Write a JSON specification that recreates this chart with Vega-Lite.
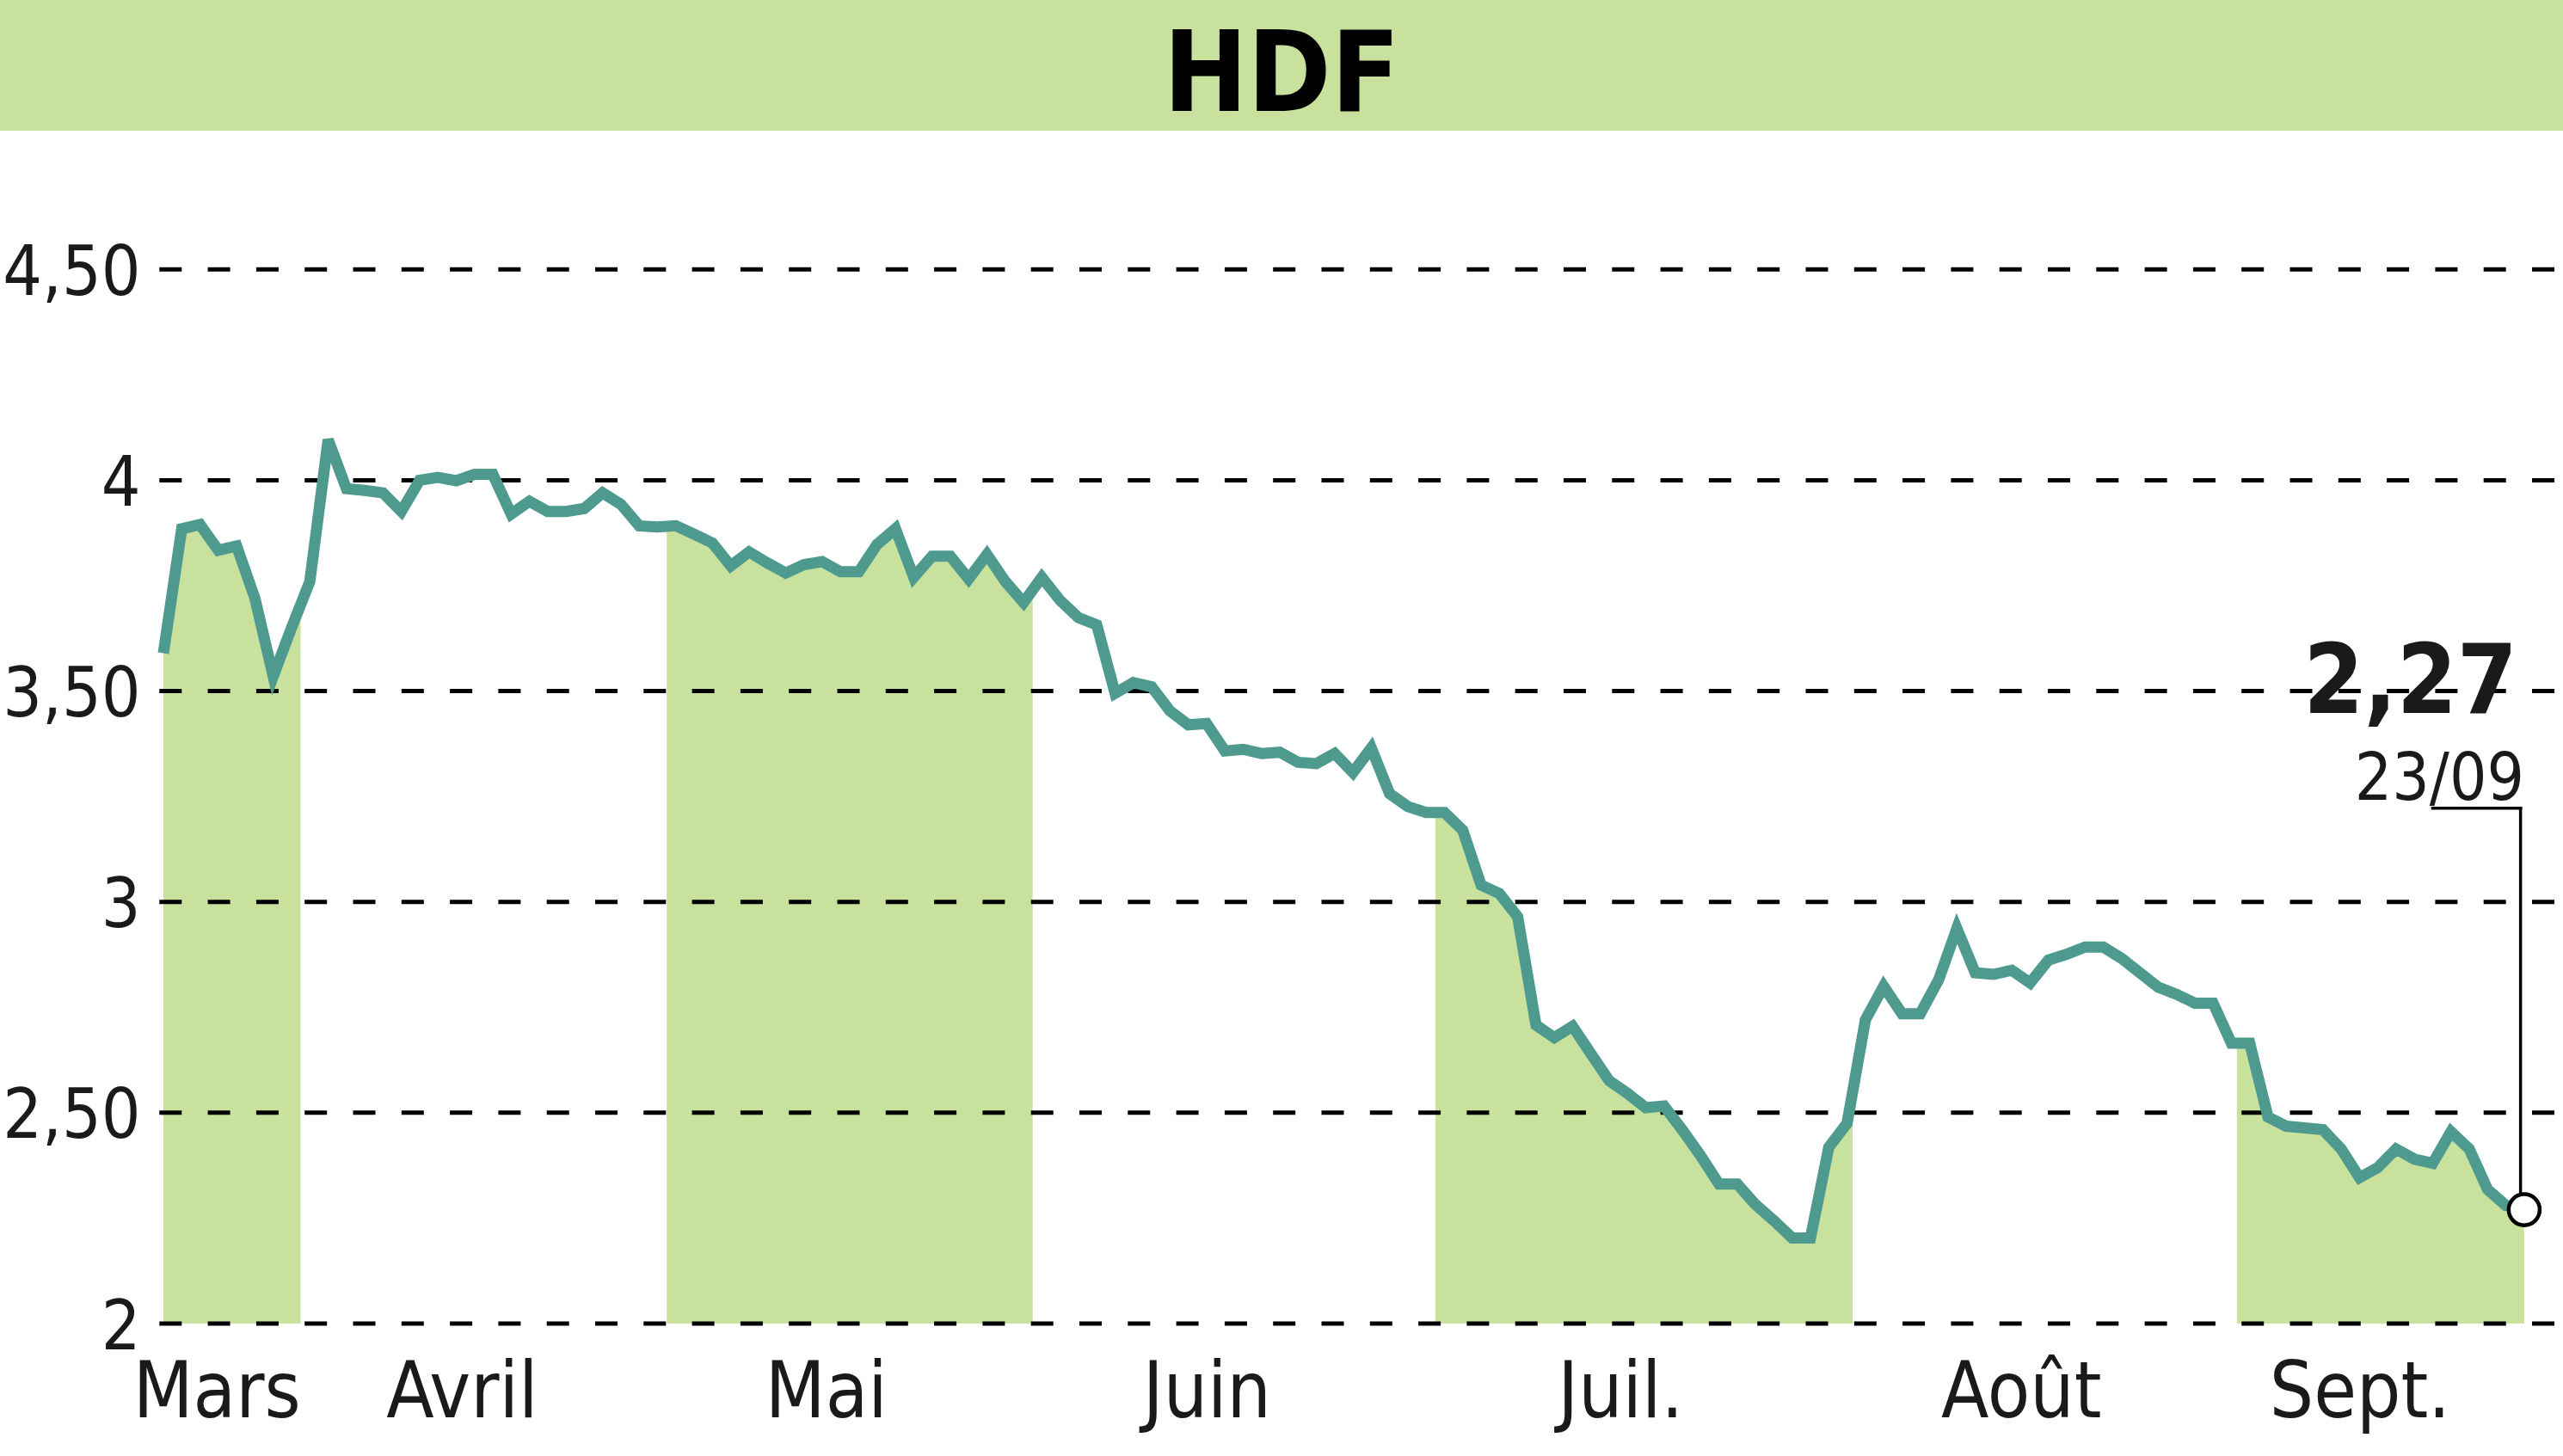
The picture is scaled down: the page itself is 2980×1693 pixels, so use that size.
{
  "$schema": "https://vega.github.io/schema/vega-lite/v6.json",
  "width": 2796,
  "height": 1539,
  "autosize": {"type": "none"},
  "padding": {"left": 184, "top": 0, "right": 0, "bottom": 154},
  "background": "white",
  "config": {
    "view": {"stroke": null},
    "font": "DejaVu Sans Condensed, Liberation Sans, sans-serif",
    "axis": {"grid": false, "domain": false, "ticks": false, "tickSize": 0, "labelFlush": false, "labelOverlap": false, "labelLimit": 0, "labelFont": "DejaVu Sans Condensed, Liberation Sans, sans-serif", "labelColor": "#1a1a1a"}
  },
  "datasets": {
    "prix": [
      {"i":0,"v":3.59},{"i":1,"v":3.885},{"i":2,"v":3.895},{"i":3,"v":3.834},{"i":4,"v":3.844},
      {"i":5,"v":3.72},{"i":6,"v":3.535},{"i":7,"v":3.65},{"i":8,"v":3.76},{"i":9,"v":4.096},
      {"i":10,"v":3.98},{"i":11,"v":3.976},{"i":12,"v":3.97},{"i":13,"v":3.926},{"i":14,"v":4.0},
      {"i":15,"v":4.007},{"i":16,"v":3.999},{"i":17,"v":4.014},{"i":18,"v":4.014},{"i":19,"v":3.92},
      {"i":20,"v":3.95},{"i":21,"v":3.926},{"i":22,"v":3.926},{"i":23,"v":3.933},{"i":24,"v":3.97},
      {"i":25,"v":3.943},{"i":26,"v":3.892},{"i":27,"v":3.889},{"i":28,"v":3.892},{"i":29,"v":3.872},
      {"i":30,"v":3.851},{"i":31,"v":3.797},{"i":32,"v":3.83},{"i":33,"v":3.804},{"i":34,"v":3.78},
      {"i":35,"v":3.8},{"i":36,"v":3.807},{"i":37,"v":3.783},{"i":38,"v":3.783},{"i":39,"v":3.848},
      {"i":40,"v":3.885},{"i":41,"v":3.77},{"i":42,"v":3.82},{"i":43,"v":3.82},{"i":44,"v":3.766},
      {"i":45,"v":3.824},{"i":46,"v":3.76},{"i":47,"v":3.71},{"i":48,"v":3.77},{"i":49,"v":3.715},
      {"i":50,"v":3.674},{"i":51,"v":3.657},{"i":52,"v":3.495},{"i":53,"v":3.52},{"i":54,"v":3.51},
      {"i":55,"v":3.453},{"i":56,"v":3.42},{"i":57,"v":3.423},{"i":58,"v":3.358},{"i":59,"v":3.362},
      {"i":60,"v":3.352},{"i":61,"v":3.355},{"i":62,"v":3.331},{"i":63,"v":3.328},{"i":64,"v":3.352},
      {"i":65,"v":3.307},{"i":66,"v":3.365},{"i":67,"v":3.257},{"i":68,"v":3.226},{"i":69,"v":3.212},
      {"i":70,"v":3.212},{"i":71,"v":3.17},{"i":72,"v":3.04},{"i":73,"v":3.02},{"i":74,"v":2.965},
      {"i":75,"v":2.708},{"i":76,"v":2.678},{"i":77,"v":2.705},{"i":78,"v":2.64},{"i":79,"v":2.576},
      {"i":80,"v":2.546},{"i":81,"v":2.512},{"i":82,"v":2.516},{"i":83,"v":2.459},{"i":84,"v":2.398},
      {"i":85,"v":2.331},{"i":86,"v":2.331},{"i":87,"v":2.282},{"i":88,"v":2.244},{"i":89,"v":2.203},
      {"i":90,"v":2.203},{"i":91,"v":2.418},{"i":92,"v":2.475},{"i":93,"v":2.72},{"i":94,"v":2.8},
      {"i":95,"v":2.735},{"i":96,"v":2.735},{"i":97,"v":2.815},{"i":98,"v":2.937},{"i":99,"v":2.832},
      {"i":100,"v":2.828},{"i":101,"v":2.838},{"i":102,"v":2.808},{"i":103,"v":2.862},{"i":104,"v":2.876},
      {"i":105,"v":2.893},{"i":106,"v":2.893},{"i":107,"v":2.866},{"i":108,"v":2.832},{"i":109,"v":2.798},
      {"i":110,"v":2.781},{"i":111,"v":2.76},{"i":112,"v":2.76},{"i":113,"v":2.665},{"i":114,"v":2.665},
      {"i":115,"v":2.49},{"i":116,"v":2.468},{"i":117,"v":2.464},{"i":118,"v":2.46},{"i":119,"v":2.414},
      {"i":120,"v":2.346},{"i":121,"v":2.37},{"i":122,"v":2.414},{"i":123,"v":2.39},{"i":124,"v":2.38},
      {"i":125,"v":2.455},{"i":126,"v":2.414},{"i":127,"v":2.318},{"i":128,"v":2.28},{"i":129,"v":2.27}
    ],
    "mois": [
      {"mois":"Mars","debut":0,"fin":7.5,"ombre":true},
      {"mois":"Avril","debut":7.5,"fin":27.5,"ombre":false},
      {"mois":"Mai","debut":27.5,"fin":47.5,"ombre":true},
      {"mois":"Juin","debut":47.5,"fin":69.5,"ombre":false},
      {"mois":"Juil.","debut":69.5,"fin":92.3,"ombre":true},
      {"mois":"Août","debut":92.3,"fin":113.3,"ombre":false},
      {"mois":"Sept.","debut":113.3,"fin":129,"ombre":true}
    ],
    "grille": [{"g":2},{"g":2.5},{"g":3},{"g":3.5},{"g":4},{"g":4.5}],
    "dernier": [{"i":129,"v":2.27,"prix":"2,27","date":"23/09"}],
    "titre": [{"titre":"HDF"}]
  },
  "layer": [
    {
      "data": {"name": "prix"},
      "mark": {"type": "area", "color": "#c8e29e"},
      "encoding": {
        "x": {"field": "i", "type": "quantitative", "scale": {"domain": [-0.282, 131.12], "nice": false, "zero": false},
          "axis": {"title": null, "values": [2.9, 16.3, 36.2, 57, 79.6, 101.5, 120], "labelExpr": "datum.value < 10 ? 'Mars' : datum.value < 25 ? 'Avril' : datum.value < 45 ? 'Mai' : datum.value < 65 ? 'Juin' : datum.value < 90 ? 'Juil.' : datum.value < 110 ? 'Août' : 'Sept.'", "labelFontSize": 90, "labelPadding": 37, "labelAlign": "center", "labelBaseline": "top"}},
        "y": {"field": "v", "type": "quantitative", "scale": {"domain": [2, 5.139], "nice": false, "zero": false},
          "axis": {"title": null, "values": [2, 2.5, 3, 3.5, 4, 4.5], "labelExpr": "datum.value % 1 == 0 ? format(datum.value, 'd') : replace(format(datum.value, '.2f'), '.', ',')", "labelFontSize": 80, "labelPadding": 21, "labelOffset": 5, "labelAlign": "right", "labelBaseline": "middle"}},
        "y2": {"datum": 2}
      }
    },
    {
      "data": {"name": "mois"},
      "transform": [{"filter": "!datum.ombre"}],
      "mark": {"type": "rect", "color": "white"},
      "encoding": {
        "x": {"field": "debut", "type": "quantitative"},
        "x2": {"field": "fin"},
        "y": {"datum": 2, "type": "quantitative"},
        "y2": {"datum": 4.6}
      }
    },
    {
      "data": {"name": "titre"},
      "mark": {"type": "rect", "color": "#c8e29e"},
      "encoding": {
        "x": {"datum": -9, "type": "quantitative"},
        "x2": {"datum": 132},
        "y": {"datum": 4.829, "type": "quantitative"},
        "y2": {"datum": 5.3}
      }
    },
    {
      "data": {"name": "grille"},
      "mark": {"type": "rule", "color": "#000000", "strokeWidth": 5, "strokeDash": [26, 30.3], "strokeDashOffset": 46.3},
      "encoding": {
        "y": {"field": "g", "type": "quantitative"}
      }
    },
    {
      "data": {"name": "prix"},
      "mark": {"type": "line", "color": "#4e9a8f", "strokeWidth": 13, "strokeJoin": "miter"},
      "encoding": {
        "x": {"field": "i", "type": "quantitative"},
        "y": {"field": "v", "type": "quantitative"}
      }
    },
    {
      "data": {"name": "dernier"},
      "mark": {"type": "rule", "color": "#000000", "strokeWidth": 3.5, "strokeCap": "square"},
      "encoding": {
        "x": {"datum": 128.8, "type": "quantitative"},
        "y": {"field": "v", "type": "quantitative"},
        "y2": {"datum": 3.222}
      }
    },
    {
      "data": {"name": "dernier"},
      "mark": {"type": "rule", "color": "#000000", "strokeWidth": 3.5, "strokeCap": "square"},
      "encoding": {
        "x": {"datum": 124, "type": "quantitative"},
        "x2": {"datum": 128.8},
        "y": {"datum": 3.222, "type": "quantitative"}
      }
    },
    {
      "data": {"name": "dernier"},
      "mark": {"type": "point", "shape": "circle", "filled": true, "fill": "white", "stroke": "#000000", "strokeWidth": 4.5, "size": 1300, "opacity": 1},
      "encoding": {
        "x": {"field": "i", "type": "quantitative"},
        "y": {"field": "v", "type": "quantitative"}
      }
    },
    {
      "data": {"name": "dernier"},
      "mark": {"type": "text", "fontWeight": "bold", "fontSize": 112, "align": "right", "baseline": "alphabetic", "dx": -8, "color": "#1a1a1a"},
      "encoding": {
        "x": {"field": "i", "type": "quantitative"},
        "y": {"datum": 3.448, "type": "quantitative"},
        "text": {"field": "prix"}
      }
    },
    {
      "data": {"name": "dernier"},
      "mark": {"type": "text", "fontSize": 76, "align": "right", "baseline": "alphabetic", "color": "#1a1a1a"},
      "encoding": {
        "x": {"field": "i", "type": "quantitative"},
        "y": {"datum": 3.242, "type": "quantitative"},
        "text": {"field": "date"}
      }
    },
    {
      "data": {"name": "titre"},
      "mark": {"type": "text", "fontWeight": "bold", "fontSize": 130, "align": "center", "baseline": "alphabetic", "color": "#000000"},
      "encoding": {
        "x": {"datum": 61.1, "type": "quantitative"},
        "y": {"datum": 4.875, "type": "quantitative"},
        "text": {"field": "titre"}
      }
    }
  ]
}
